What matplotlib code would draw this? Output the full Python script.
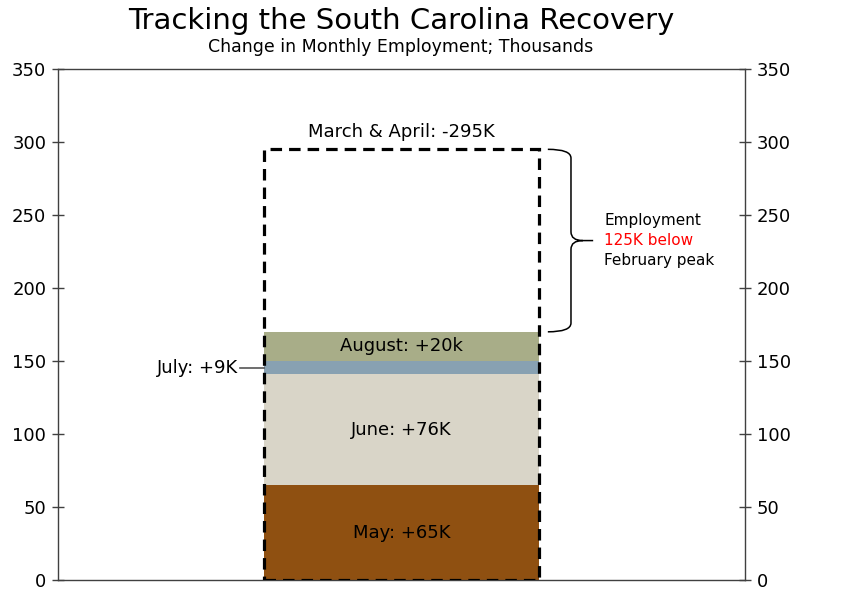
import matplotlib.pyplot as plt
from matplotlib.patches import PathPatch, Rectangle
from matplotlib.path import Path

plt.rcParams["font.family"] = "DejaVu Sans"

# monthly employment change, thousands
months = ["May", "June", "July", "August"]
gains = [65, 76, 9, 20]
labels = ["May: +65K", "June: +76K", "July: +9K", "August: +20k"]
colors = ["#8f5011", "#d9d5c8", "#88a1b2", "#a8ad88"]
spring_loss = 295
loss_label = "March & April: -295K"
yticks = [0, 50, 100, 150, 200, 250, 300, 350]

fig = plt.figure(figsize=(8.46, 5.91), dpi=100)
ax = fig.add_axes([0.0686, 0.0186, 0.812, 0.8646])

bar_x, bar_w = 0.5, 0.4
bottom = 0
for name, val, lab, col in zip(months, gains, labels, colors):
    ax.bar(bar_x, val, width=bar_w, bottom=bottom, color=col, zorder=2)
    mid = bottom + val / 2
    if name == "July":
        ax.plot([bar_x - bar_w / 2 - 0.035, bar_x - bar_w / 2], [mid, mid],
                color="#555555", lw=1.2, zorder=3)
        ax.text(bar_x - bar_w / 2 - 0.038, mid, lab, ha="right", va="center",
                fontsize=13)
    else:
        ax.text(bar_x, mid, lab, ha="center", va="center", fontsize=13,
                zorder=4)
    bottom += val
recovered = bottom

# outline of the March & April losses
ax.add_patch(Rectangle((bar_x - bar_w / 2, 0), bar_w, spring_loss, fill=False,
                       ec="black", lw=2.3, ls=(0, (3.6, 2.2)), zorder=5))
ax.text(bar_x, spring_loss + 12, loss_label, ha="center", va="center",
        fontsize=13)

# curly brace spanning the remaining gap
top, bot = spring_loss, recovered
mid = (top + bot) / 2
x0, x1, xc, xt = 0.713, 0.7467, 0.764, 0.779
r = 6
verts = [(x0, top), (x1, top), (x1, top - r),
         (x1, mid + r), (x1, mid), (xc, mid),
         (xt, mid), (xc, mid),
         (x1, mid), (x1, mid - r),
         (x1, bot + r), (x1, bot), (x0, bot)]
codes = [Path.MOVETO, Path.CURVE3, Path.CURVE3,
         Path.LINETO, Path.CURVE3, Path.CURVE3,
         Path.LINETO, Path.MOVETO,
         Path.CURVE3, Path.CURVE3,
         Path.LINETO, Path.CURVE3, Path.CURVE3]
ax.add_patch(PathPatch(Path(verts, codes), fill=False, ec="black", lw=1.1,
                       zorder=3))

gap = spring_loss - recovered
ax.text(0.795, mid + 13.5, "Employment", ha="left", va="center", fontsize=11)
ax.text(0.795, mid, f"{gap}K below", ha="left", va="center", fontsize=11,
        color="red")
ax.text(0.795, mid - 13.5, "February peak", ha="left", va="center",
        fontsize=11)

ax.set_xlim(0, 1)
ax.set_ylim(0, 350)
ax.set_xticks([])
ax.set_yticks(yticks)
ax.tick_params(axis="y", which="both", direction="inout", length=8, width=1,
               color="#404040", labelsize=13, left=True, right=True,
               labelleft=True, labelright=True, pad=4.5)
for side in ["left", "right", "bottom", "top"]:
    ax.spines[side].set_color("#404040")
    ax.spines[side].set_linewidth(1)

fig.text(0.474, 0.965, "Tracking the South Carolina Recovery", ha="center",
         va="center", fontsize=21)
fig.text(0.474, 0.92, "Change in Monthly Employment; Thousands", ha="center",
         va="center", fontsize=12.5)

fig.savefig("out.png", dpi=100)
